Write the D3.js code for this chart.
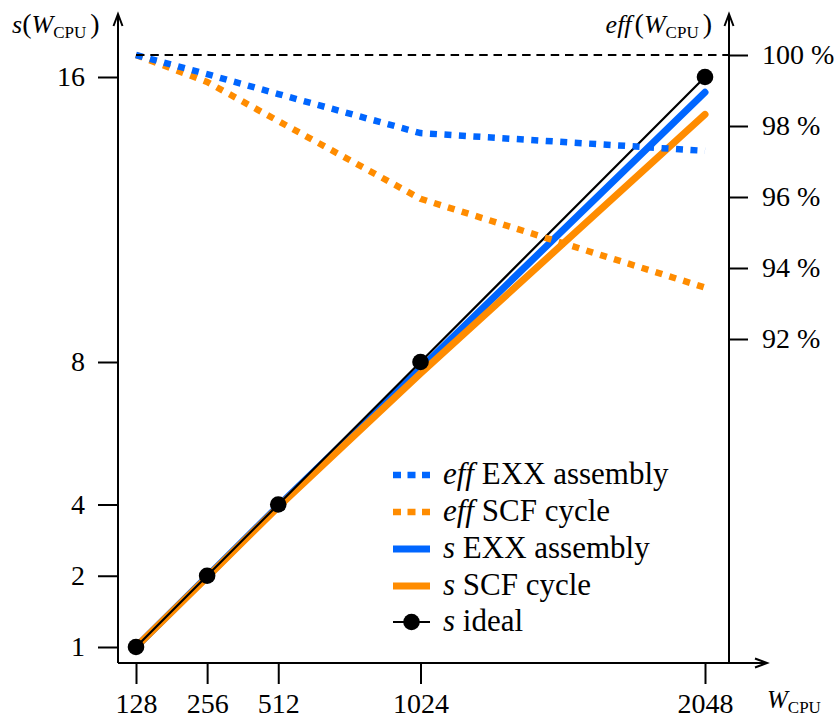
<!DOCTYPE html>
<html>
<head>
<meta charset="utf-8">
<script src="https://cdnjs.cloudflare.com/ajax/libs/d3/7.8.5/d3.min.js"></script>
<style>
  body { margin: 0; background: #fff; }
  svg { display: block; }
  text, tspan { font-family: "Liberation Serif"; }
</style>
</head>
<body>
<script>
// data
var workers = [128, 256, 512, 1024, 2048];
var speedupIdeal = [1, 2, 4, 8, 16];
var speedupEXX = [1, 1.99, 3.96, 7.82, 15.57];
var speedupSCF = [1, 1.98, 3.93, 7.68, 14.95];
var effEXX = [100, 99.46, 98.9, 97.8, 97.3];
var effSCF = [100, 99.24, 98.14, 95.95, 93.45];
var speedupTicks = [1, 2, 4, 8, 16];
var effTicks = [92, 94, 96, 98, 100];

var width = 839, height = 719;
var blue = "#0066ff", orange = "#ff8c00";
var fontName = "Liberation Serif";
var axisLeftX = 118, axisRightX = 729, axisBottomY = 663, arrowTop = 14, arrowRight = 767;

var svg = d3.select("body").append("svg")
  .attr("width", width)
  .attr("height", height)
  .attr("font-family", fontName);

// first tick sits on the origin, the rest is linear
var x = d3.scaleLinear().domain([128, 256, 2048]).range([136, 136 + (705 - 136) / 8, 705]);
var y = d3.scaleLinear().domain([1, 2, 16]).range([647, 647 - (647 - 77) / 8, 77]);
var yEff = d3.scaleLinear().domain([92, 100]).range([339, 55]);

function pairs(vals) {
  return workers.map((w, i) => [w, vals[i]]);
}

var sLine = d3.line().x(d => x(d[0])).y(d => y(d[1]));
var effLine = d3.line().x(d => x(d[0])).y(d => yEff(d[1]));

// axes
function styleAxis(g) {
  g.select(".domain").remove();
  g.attr("font-size", 28).attr("font-family", fontName);
  g.selectAll("line").attr("stroke-width", 2);
}

svg.append("g")
  .attr("transform", `translate(0,${axisBottomY})`)
  .call(d3.axisBottom(x).tickValues(workers).tickSize(21).tickPadding(9).tickFormat(d3.format("d")))
  .call(styleAxis);

svg.append("g")
  .attr("transform", `translate(${axisLeftX},0)`)
  .call(d3.axisLeft(y).tickValues(speedupTicks).tickSize(20).tickPadding(13).tickFormat(d3.format("d")))
  .call(styleAxis);

svg.append("g")
  .attr("transform", `translate(${axisRightX},0)`)
  .call(d3.axisRight(yEff).tickValues(effTicks).tickSize(19).tickPadding(14).tickFormat(d => d + " %"))
  .call(styleAxis);

var axes = svg.append("g")
  .attr("fill", "none")
  .attr("stroke", "#000")
  .attr("stroke-width", 2);

axes.append("path").attr("d", `M${axisLeftX},${axisBottomY}V${arrowTop}`);
axes.append("path").attr("d", `M${axisRightX},${axisBottomY}V${arrowTop}`);
axes.append("path").attr("d", `M${axisLeftX},${axisBottomY}H${arrowRight}`);
axes.append("path").attr("d", `M${axisLeftX - 4.5},${arrowTop + 12}L${axisLeftX},${arrowTop}L${axisLeftX + 4.5},${arrowTop + 12}`);
axes.append("path").attr("d", `M${axisRightX - 4.5},${arrowTop + 12}L${axisRightX},${arrowTop}L${axisRightX + 4.5},${arrowTop + 12}`);
axes.append("path").attr("d", `M${arrowRight - 12},${axisBottomY - 4.5}L${arrowRight},${axisBottomY}L${arrowRight - 12},${axisBottomY + 4.5}`);

// speedup lines
svg.append("path")
  .attr("d", sLine(pairs(speedupEXX)))
  .attr("fill", "none").attr("stroke", blue).attr("stroke-width", 7)
  .attr("stroke-linecap", "round").attr("stroke-linejoin", "round");

svg.append("path")
  .attr("d", sLine(pairs(speedupSCF)))
  .attr("fill", "none").attr("stroke", orange).attr("stroke-width", 7)
  .attr("stroke-linecap", "round").attr("stroke-linejoin", "round");

svg.append("path")
  .attr("d", sLine(pairs(speedupIdeal)))
  .attr("fill", "none").attr("stroke", "#000").attr("stroke-width", 2.2);

svg.selectAll(".ideal")
  .data(pairs(speedupIdeal))
  .enter()
  .append("circle")
  .attr("cx", d => x(d[0]))
  .attr("cy", d => y(d[1]))
  .attr("r", 8.3);

// efficiency lines
svg.append("path")
  .attr("d", effLine(pairs(effSCF)))
  .attr("fill", "none").attr("stroke", orange).attr("stroke-width", 6.5)
  .attr("stroke-dasharray", "7,7.5");

svg.append("path")
  .attr("d", effLine(pairs(effEXX)))
  .attr("fill", "none").attr("stroke", blue).attr("stroke-width", 6.5)
  .attr("stroke-dasharray", "7,7.5");

svg.append("line")
  .attr("x1", x(workers[0])).attr("x2", axisRightX)
  .attr("y1", yEff(100)).attr("y2", yEff(100))
  .attr("stroke", "#000").attr("stroke-width", 2.2)
  .attr("stroke-dasharray", "8.5,5.8");

// axis titles
var title = svg.append("text").attr("x", 12).attr("y", 33).attr("font-size", 26);
title.append("tspan").attr("font-style", "italic").text("s");
title.append("tspan").attr("font-size", 28).text("(");
title.append("tspan").attr("font-style", "italic").text("W");
title.append("tspan").attr("font-size", 17).attr("dy", 5).text("CPU");
title.append("tspan").attr("font-size", 28).attr("dy", -5).attr("dx", 4).text(")");

var effTitle = svg.append("text").attr("x", 712).attr("y", 33).attr("font-size", 26)
  .attr("text-anchor", "end");
effTitle.append("tspan").attr("font-style", "italic").text("eff");
effTitle.append("tspan").attr("font-size", 28).attr("dx", 3).text("(");
effTitle.append("tspan").attr("font-style", "italic").text("W");
effTitle.append("tspan").attr("font-size", 17).attr("dy", 5).text("CPU");
effTitle.append("tspan").attr("font-size", 28).attr("dy", -5).attr("dx", 4).text(")");

var xTitle = svg.append("text").attr("x", 767).attr("y", 708).attr("font-size", 25);
xTitle.append("tspan").attr("font-style", "italic").text("W");
xTitle.append("tspan").attr("font-size", 17).attr("dy", 5).text("CPU");

// legend
var legendItems = [
  {pre: "eff", label: " EXX assembly", color: blue, kind: "dot"},
  {pre: "eff", label: " SCF cycle", color: orange, kind: "dot"},
  {pre: "s", label: " EXX assembly", color: blue, kind: "solid"},
  {pre: "s", label: " SCF cycle", color: orange, kind: "solid"},
  {pre: "s", label: " ideal", color: "#000", kind: "ideal"}
];
var legendY = [475, 512, 549, 586, 622];

var legend = svg.append("g");
legendItems.forEach(function(item, i) {
  var ly = legendY[i];
  var row = legend.append("g");
  if (item.kind === "dot") {
    row.append("line").attr("x1", 393).attr("x2", 430).attr("y1", ly).attr("y2", ly)
      .attr("stroke", item.color).attr("stroke-width", 6.5).attr("stroke-dasharray", "8,6.5");
  } else if (item.kind === "solid") {
    row.append("line").attr("x1", 393).attr("x2", 430).attr("y1", ly).attr("y2", ly)
      .attr("stroke", item.color).attr("stroke-width", 7);
  } else {
    row.append("line").attr("x1", 393).attr("x2", 430).attr("y1", ly).attr("y2", ly)
      .attr("stroke", "#000").attr("stroke-width", 2.2);
    row.append("circle").attr("cx", 411.5).attr("cy", ly).attr("r", 8.3);
  }
  var t = row.append("text").attr("x", 443).attr("y", ly + 9).attr("font-size", 31);
  t.append("tspan").attr("font-style", "italic").text(item.pre);
  t.append("tspan").text(item.label);
});
</script>
</body>
</html>
